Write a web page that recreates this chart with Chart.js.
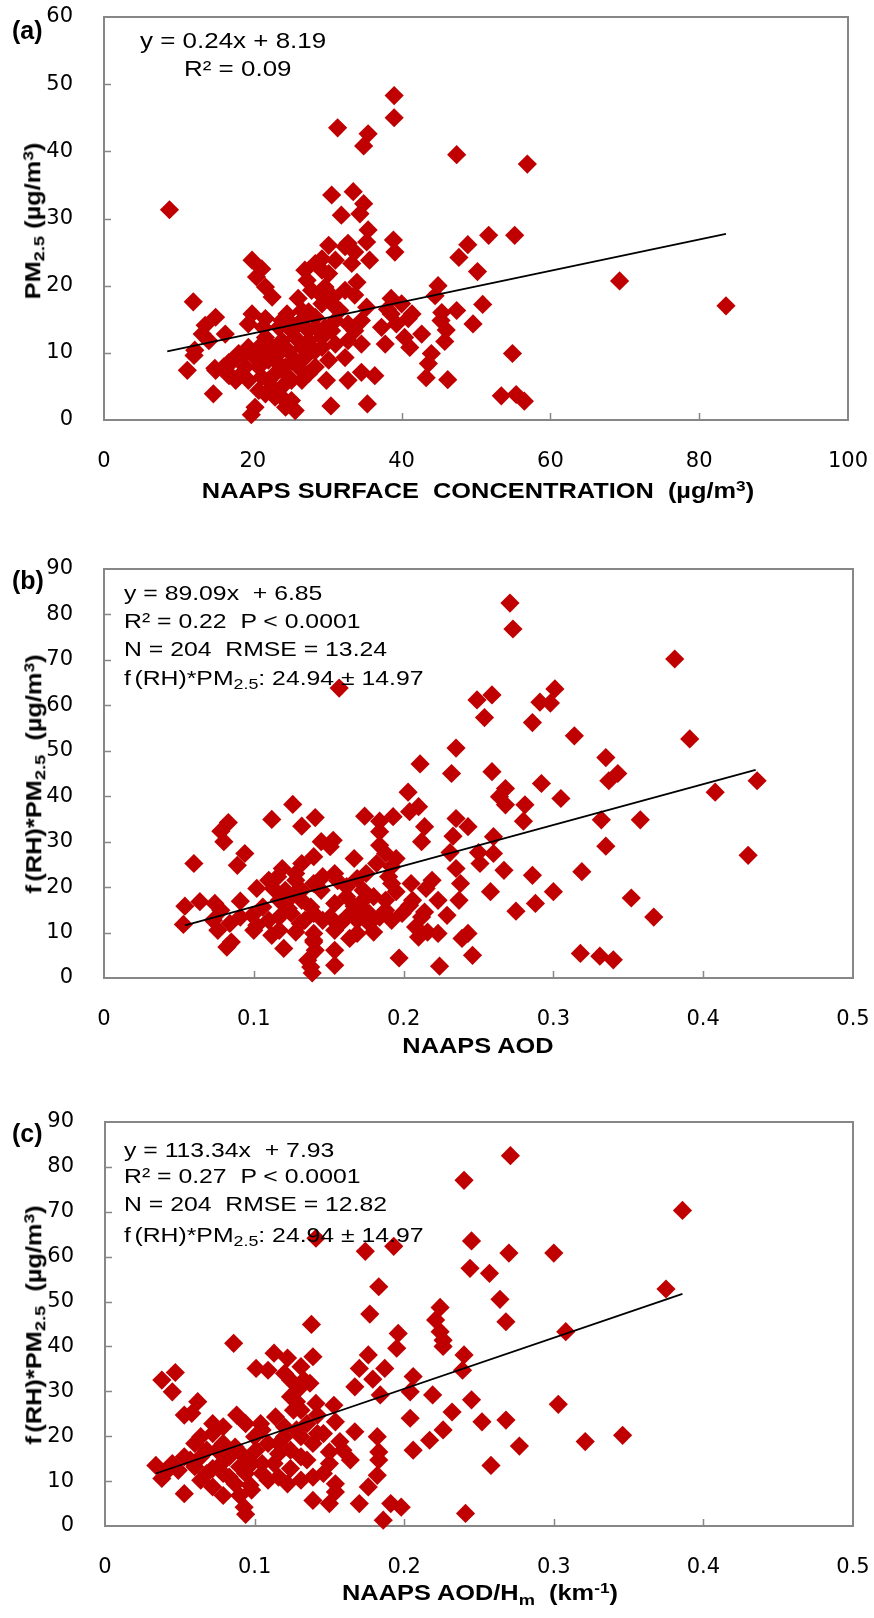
<!DOCTYPE html>
<html>
<head>
<meta charset="utf-8">
<title>NAAPS vs PM2.5 scatter</title>
<script src="https://cdn.jsdelivr.net/npm/chart.js@4.4.0/dist/chart.umd.min.js"></script>
<style>
  html, body { margin: 0; padding: 0; background: #fff; }
  #page { position: relative; width: 874px; height: 1618px; overflow: hidden; background: #fff; }
  canvas { position: absolute; left: 0; }
  .lbl { position: absolute; white-space: pre; line-height: 1; font-family: 'Liberation Sans', Arial, sans-serif; color: #000; }
  .lbl.b { font-weight: bold; }
  .lbl sub { font-size: 0.72em; vertical-align: -0.28em; line-height: 0; }
  .lbl sup { font-size: 0.68em; vertical-align: 0.48em; line-height: 0; }
</style>
</head>
<body>
<div id="page">
  <canvas id="chart_a" width="874" height="530" style="top:0px"></canvas>
  <canvas id="chart_b" width="874" height="530" style="top:540px"></canvas>
  <canvas id="chart_c" width="874" height="528" style="top:1090px"></canvas>
</div>
<script>
// ---- data ----
// (a) NAAPS surface concentration vs PM2.5
var aX = [8.8, 30.6, 33.5, 34.9, 31.9, 34.4, 35.5, 35.3, 30.2, 32.8, 33.7, 38.9, 39.1, 35.7, 33.3, 29.3, 30.2, 27.0, 19.9, 21.2,
  20.5, 21.7, 22.6, 27.3, 27.9, 29.7, 32.4, 34.0, 33.7, 30.8, 26.1, 29.0, 12.0, 35.3, 38.6, 40.0, 44.9, 44.5, 45.4, 38.6,
  40.9, 31.7, 24.6, 27.5, 28.4, 19.9, 21.7, 15.0, 13.6, 16.3, 13.2, 14.1, 12.1, 11.2, 14.7, 15.0, 16.8, 17.4, 18.8, 19.4,
  20.3, 19.8, 20.8, 22.1, 20.8, 23.0, 24.4, 25.7, 23.9, 25.2, 26.6, 23.0, 21.7, 24.8, 25.7, 27.5, 29.3, 28.4, 27.0, 30.2,
  31.1, 33.7, 34.6, 29.9, 32.8, 34.6, 36.4, 30.5, 35.4, 37.3, 37.8, 39.3, 40.4, 41.1, 42.7, 43.3, 43.6, 44.0, 45.3, 45.8,
  46.2, 18.5, 23.5, 24.8, 26.1, 19.9, 21.7, 23.9, 26.1, 24.4, 23.0, 21.2, 32.8, 31.1, 29.7, 32.4, 39.0, 39.0, 31.4, 35.5,
  34.9, 47.4, 56.9, 51.7, 55.2, 48.9, 47.7, 50.2, 50.9, 47.4, 49.6, 46.0, 54.9, 69.3, 83.6, 53.4, 55.4, 56.5, 41.4, 38.1,
  12.2, 16.7, 14.9, 16.8, 18.1, 19.0, 20.3, 20.8, 22.1, 22.6, 23.5, 23.9, 24.8, 25.7, 26.6, 27.5, 25.2, 23.9, 26.6, 28.4,
  29.3, 28.4, 27.5, 22.6, 21.7, 23.9, 25.2, 19.4, 17.7, 16.1, 21.4, 19.4, 30.6, 31.1, 32.8, 34.6, 29.3, 26.6, 29.3, 31.1,
  32.4, 28.4];
var aY = [31.3, 33.5, 34.0, 32.2, 30.5, 30.7, 28.3, 26.5, 26.0, 26.3, 25.0, 26.8, 25.0, 23.8, 23.3, 24.0, 21.8, 22.3, 23.8, 22.5,
  21.3, 19.8, 18.3, 20.8, 19.3, 19.8, 19.3, 20.5, 18.6, 18.3, 18.1, 18.8, 17.6, 16.8, 18.1, 17.3, 20.0, 18.5, 16.0, 15.8,
  15.1, 16.3, 15.8, 16.1, 15.3, 15.8, 15.1, 15.3, 14.1, 12.8, 12.8, 11.8, 9.6, 7.4, 3.9, 7.4, 6.6, 8.9, 9.6, 5.9,
  1.9, 0.8, 7.9, 5.9, 4.4, 3.4, 1.9, 1.4, 4.9, 5.9, 5.9, 8.9, 10.3, 10.3, 12.3, 13.3, 12.3, 10.3, 9.3, 8.9,
  11.3, 13.3, 11.3, 5.9, 5.9, 7.1, 6.6, 2.1, 2.4, 13.8, 11.3, 14.3, 12.3, 10.8, 12.8, 6.3, 8.4, 9.9, 14.8, 11.7,
  6.0, 6.9, 13.8, 14.8, 14.3, 9.9, 12.3, 11.8, 7.9, 7.9, 6.9, 6.4, 11.8, 14.8, 13.8, 9.3, 48.3, 45.0, 43.5, 42.6,
  40.8, 39.5, 38.1, 27.5, 27.5, 26.1, 24.2, 22.1, 17.2, 16.3, 14.3, 13.4, 9.9, 20.7, 17.0, 3.6, 3.8, 2.8, 15.8, 16.5,
  10.4, 7.0, 7.7, 8.6, 9.9, 7.9, 9.3, 10.8, 8.9, 10.8, 9.9, 7.9, 6.4, 8.9, 10.8, 11.8, 13.3, 14.8, 14.8, 13.8,
  10.8, 7.9, 6.9, 4.9, 3.9, 3.4, 2.9, 10.8, 5.9, 7.9, 13.8, 14.3, 13.3, 16.8, 14.3, 14.8, 17.3, 16.3, 22.3, 23.8,
  25.8, 23.3];
var aFitX = [8.5, 83.6];
var aFitY = [10.2, 27.7];

// (b) NAAPS AOD vs f(RH)*PM2.5
var bX = [0.271, 0.273, 0.381, 0.157, 0.301, 0.259, 0.249, 0.291, 0.298, 0.254, 0.286, 0.314, 0.391, 0.235, 0.335, 0.211, 0.232, 0.259, 0.343, 0.337,
  0.436, 0.292, 0.268, 0.408, 0.203, 0.264, 0.305, 0.268, 0.281, 0.126, 0.210, 0.204, 0.174, 0.193, 0.141, 0.112, 0.184, 0.332, 0.358, 0.280,
  0.235, 0.083, 0.243, 0.214, 0.132, 0.078, 0.184, 0.233, 0.260, 0.430, 0.335, 0.080, 0.145, 0.153, 0.212, 0.151, 0.184, 0.188, 0.094, 0.250,
  0.231, 0.260, 0.195, 0.167, 0.140, 0.132, 0.060, 0.089, 0.267, 0.319, 0.235, 0.182, 0.251, 0.119, 0.286, 0.146, 0.116, 0.190, 0.219, 0.205,
  0.110, 0.128, 0.156, 0.169, 0.238, 0.102, 0.113, 0.215, 0.300, 0.258, 0.145, 0.173, 0.195, 0.126, 0.180, 0.352, 0.237, 0.223, 0.288, 0.054,
  0.064, 0.074, 0.091, 0.154, 0.167, 0.204, 0.123, 0.138, 0.173, 0.188, 0.214, 0.275, 0.229, 0.367, 0.099, 0.117, 0.162, 0.146, 0.192, 0.053,
  0.084, 0.131, 0.177, 0.208, 0.076, 0.102, 0.112, 0.128, 0.154, 0.180, 0.216, 0.223, 0.243, 0.210, 0.239, 0.164, 0.085, 0.140, 0.082, 0.120,
  0.141, 0.318, 0.331, 0.340, 0.246, 0.197, 0.136, 0.154, 0.224, 0.139, 0.138,
  0.106, 0.117, 0.132, 0.140, 0.151, 0.158, 0.169, 0.177, 0.162, 0.173, 0.188, 0.192, 0.162, 0.140, 0.132, 0.121, 0.125, 0.134, 0.110, 0.091,
  0.078, 0.073, 0.100, 0.117, 0.140, 0.169, 0.184, 0.199, 0.206, 0.212, 0.175, 0.154, 0.128, 0.192, 0.140, 0.154];
var bY = [82.5, 76.8, 70.2, 63.8, 63.6, 62.3, 61.2, 60.7, 60.5, 57.3, 56.2, 53.3, 52.6, 50.6, 48.5, 47.1, 45.0, 45.4, 45.0, 43.4,
  43.4, 42.8, 41.7, 40.9, 40.9, 39.9, 39.5, 38.1, 38.1, 38.2, 37.7, 36.6, 35.6, 35.5, 35.3, 34.9, 34.5, 34.8, 34.8, 34.5,
  35.1, 34.2, 33.3, 33.3, 33.4, 32.3, 32.2, 31.2, 31.1, 27.0, 29.0, 30.0, 30.0, 30.3, 30.0, 28.9, 29.2, 27.4, 27.4, 27.6,
  27.6, 27.4, 26.3, 26.3, 26.7, 25.2, 25.2, 24.8, 23.7, 23.4, 24.1, 25.2, 25.2, 24.1, 22.6, 22.3, 22.3, 22.3, 21.5, 20.8,
  21.5, 21.5, 21.4, 21.9, 20.8, 19.7, 19.7, 19.7, 19.0, 19.0, 19.3, 19.3, 19.0, 18.2, 17.9, 17.6, 17.1, 17.1, 16.4, 15.8,
  16.8, 16.4, 16.9, 16.4, 15.8, 16.0, 15.3, 15.6, 14.9, 14.9, 14.5, 14.7, 13.8, 13.4, 13.8, 13.4, 13.4, 12.7, 12.7, 11.8,
  12.0, 12.0, 12.0, 11.2, 10.5, 11.6, 9.4, 10.1, 10.5, 10.1, 10.1, 9.8, 9.8, 9.0, 8.7, 8.7, 7.9, 7.9, 6.8, 6.5,
  6.1, 5.4, 4.8, 4.0, 5.0, 4.4, 3.9, 2.8, 2.6, 1.1, 2.4,
  15.6, 17.1, 17.1, 14.2, 13.4, 12.0, 12.7, 14.2, 17.9, 17.1, 17.1, 20.8, 20.1, 20.8, 19.3, 19.3, 14.2, 12.7, 12.7, 13.4,
  14.9, 12.7, 10.5, 10.5, 9.8, 9.8, 13.4, 14.2, 17.1, 13.4, 23.0, 23.0, 23.0, 24.5, 8.3, 6.1];
var bFitX = [0.054, 0.435];
var bFitY = [11.6, 45.8];

// (c) NAAPS AOD/Hm vs f(RH)*PM2.5
var cX = [0.271, 0.240, 0.386, 0.141, 0.245, 0.193, 0.174, 0.270, 0.300, 0.244, 0.257, 0.183, 0.375, 0.264, 0.224, 0.177, 0.268, 0.221, 0.138, 0.308,
  0.224, 0.196, 0.226, 0.086, 0.195, 0.226, 0.113, 0.176, 0.240, 0.139, 0.122, 0.101, 0.109, 0.131, 0.170, 0.187, 0.239, 0.047, 0.038, 0.206,
  0.179, 0.124, 0.137, 0.129, 0.167, 0.045, 0.204, 0.184, 0.219, 0.245, 0.303, 0.062, 0.128, 0.141, 0.153, 0.126, 0.232, 0.053, 0.058, 0.088,
  0.142, 0.114, 0.268, 0.204, 0.252, 0.154, 0.104, 0.120, 0.226, 0.167, 0.142, 0.072, 0.346, 0.079, 0.100, 0.131, 0.182, 0.217, 0.321, 0.157,
  0.060, 0.116, 0.277, 0.206, 0.068, 0.183, 0.150, 0.092, 0.053, 0.164, 0.135, 0.183, 0.079, 0.105, 0.258, 0.034, 0.042, 0.060, 0.072, 0.124,
  0.094, 0.146, 0.083, 0.182, 0.038, 0.109, 0.064, 0.097, 0.122, 0.131, 0.072, 0.176, 0.154, 0.079, 0.090, 0.053, 0.139, 0.150, 0.170, 0.191,
  0.198, 0.093, 0.094, 0.241, 0.186, 0.154, 0.139,
  0.057, 0.064, 0.075, 0.079, 0.087, 0.083, 0.090, 0.098, 0.101, 0.109, 0.116, 0.124, 0.131, 0.120, 0.128, 0.135, 0.113, 0.105, 0.116, 0.087,
  0.079, 0.068, 0.049, 0.045, 0.139, 0.146, 0.131, 0.124, 0.133, 0.120, 0.105, 0.094, 0.072, 0.064, 0.150, 0.159, 0.098];
var cY = [82.5, 77.0, 70.3, 64.1, 63.5, 62.3, 61.2, 60.8, 60.8, 57.4, 56.3, 53.3, 52.8, 50.5, 48.7, 47.2, 45.5, 45.9, 44.9, 43.3,
  43.3, 42.9, 41.4, 40.7, 39.6, 40.0, 38.5, 38.1, 38.1, 37.7, 37.4, 35.1, 34.7, 35.5, 35.1, 35.1, 34.7, 34.2, 32.5, 33.3,
  32.7, 32.5, 31.8, 30.4, 31.0, 29.9, 29.9, 29.2, 29.2, 28.1, 27.1, 27.7, 27.7, 27.3, 26.9, 25.8, 25.4, 24.7, 25.1, 24.7,
  24.7, 24.3, 23.6, 24.0, 23.2, 23.2, 22.8, 22.1, 21.4, 21.0, 20.6, 20.6, 20.2, 22.1, 19.9, 19.9, 19.9, 19.1, 18.8, 18.8,
  18.4, 18.4, 17.8, 16.9, 16.9, 16.5, 16.5, 15.8, 15.4, 14.7, 14.7, 14.7, 14.3, 13.9, 13.5, 13.5, 12.4, 13.2, 12.8, 12.8,
  11.7, 11.7, 10.9, 11.3, 10.6, 10.2, 10.2, 9.1, 9.4, 10.2, 8.7, 8.7, 7.6, 6.8, 6.8, 7.2, 5.7, 5.0, 5.0, 5.0,
  4.2, 4.2, 2.6, 2.8, 1.3, 9.4, 10.9,
  14.7, 15.4, 16.9, 18.4, 17.6, 15.4, 13.2, 13.9, 16.9, 18.4, 16.1, 16.9, 15.4, 19.9, 21.4, 22.8, 13.9, 11.7, 10.9, 9.4,
  11.7, 11.7, 12.4, 13.9, 18.4, 20.6, 25.8, 28.8, 32.5, 34.0, 21.4, 22.8, 22.8, 19.9, 13.9, 16.9, 8.0];
var cFitX = [0.034, 0.386];
var cFitY = [11.7, 51.7];

// axis ranges: [min, max, step]
var aXRange = [0, 100, 20];
var aYRange = [0, 60, 10];
var bXRange = [0, 0.5, 0.1];
var bYRange = [0, 90, 10];
var cXRange = [0, 0.5, 0.1];
var cYRange = [0, 90, 10];

// ---- look ----
var MARKER = '#C00000';
var FRAME = '#878787';
var STRETCH = 1.18;   // the figure's lettering is wider than plain Arial
var tickFont = { family: "'DejaVu Sans', sans-serif", size: 21 };

// draws the grey plot box and the inward tick marks (Excel style)
var frameTicks = {
  id: 'frameTicks',
  beforeDatasetsDraw: function(chart) {
    var ctx = chart.ctx, a = chart.chartArea;
    var xs = chart.scales.x, ys = chart.scales.y;
    ctx.save();
    ctx.strokeStyle = FRAME;
    ctx.lineWidth = 2;
    ctx.strokeRect(a.left, a.top, a.right - a.left, a.bottom - a.top);
    ctx.lineWidth = 1.5;
    xs.ticks.forEach(function(t, i) {
      if (i === 0 || i === xs.ticks.length - 1) return;
      var px = Math.round(xs.getPixelForValue(t.value)) + 0.5;
      ctx.beginPath(); ctx.moveTo(px, a.bottom); ctx.lineTo(px, a.bottom - 7); ctx.stroke();
    });
    ys.ticks.forEach(function(t, i) {
      if (i === 0 || i === ys.ticks.length - 1) return;
      var py = Math.round(ys.getPixelForValue(t.value)) + 0.5;
      ctx.beginPath(); ctx.moveTo(a.left, py); ctx.lineTo(a.left + 7, py); ctx.stroke();
    });
    ctx.restore();
  }
};

function makeScatter(canvasId, xs, ys, fitX, fitY, xRange, yRange, box) {
  var pts = xs.map(function(x, i) { return { x: x, y: ys[i] }; });
  var fit = fitX.map(function(x, i) { return { x: x, y: fitY[i] }; });
  return new Chart(document.getElementById(canvasId), {
    type: 'scatter',
    data: {
      datasets: [
        { data: fit, showLine: true, borderColor: '#000', borderWidth: 1.8, pointRadius: 0, order: 0, clip: false },
        { data: pts, pointStyle: 'rectRot', pointRadius: 9.6, pointBorderWidth: 0,
          pointBackgroundColor: MARKER, backgroundColor: MARKER, borderColor: MARKER, order: 1, clip: false }
      ]
    },
    options: {
      responsive: false,
      animation: false,
      events: [],
      layout: { padding: { top: box.top, right: box.right, left: 0, bottom: 0 } },
      plugins: { legend: { display: false }, tooltip: { enabled: false } },
      scales: {
        x: {
          type: 'linear', position: 'bottom', min: xRange[0], max: xRange[1],
          ticks: { stepSize: xRange[2], color: '#000', font: tickFont, padding: 21, maxRotation: 0, autoSkip: false },
          grid: { display: false }, border: { display: false },
          // fixed size, and no extra room for the end labels
          afterFit: function(s) { s.height = box.xh; s.paddingLeft = 0; s.paddingRight = 0; }
        },
        y: {
          type: 'linear', position: 'left', min: yRange[0], max: yRange[1],
          ticks: { stepSize: yRange[2], color: '#000', font: tickFont, padding: 23, autoSkip: false },
          grid: { display: false }, border: { display: false },
          afterFit: function(s) { s.width = box.left; s.paddingTop = 0; s.paddingBottom = 0; }
        }
      }
    },
    plugins: [frameTicks]
  });
}

makeScatter('chart_a', aX, aY, aFitX, aFitY, aXRange, aYRange, { top: 17, right: 26, left: 104, xh: 110 });
makeScatter('chart_b', bX, bY, bFitX, bFitY, bXRange, bYRange, { top: 29, right: 21, left: 104, xh: 92 });
makeScatter('chart_c', cX, cY, cFitX, cFitY, cXRange, cYRange, { top: 32, right: 21, left: 105, xh: 92 });

// ---- text laid over the canvases ----
var page = document.getElementById('page');
function addText(html, x, y, size, bold, anchor, stretch) {
  var sx = (stretch === undefined) ? STRETCH : stretch;
  var d = document.createElement('div');
  d.className = 'lbl' + (bold ? ' b' : '');
  d.innerHTML = html;
  d.style.left = x + 'px';
  d.style.top = y + 'px';
  d.style.fontSize = size + 'px';
  if (anchor === 'left') {
    d.style.transformOrigin = '0 50%';
    d.style.transform = 'translate(0,-50%) scaleX(' + sx + ')';
  } else if (anchor === 'center') {
    d.style.transformOrigin = '50% 50%';
    d.style.transform = 'translate(-50%,-50%) scaleX(' + sx + ')';
  } else {
    // rotated y-axis title, widened along the text
    d.style.transformOrigin = '50% 50%';
    d.style.transform = 'translate(-50%,-50%) rotate(-90deg) scaleX(' + sx + ')';
  }
  page.appendChild(d);
}

var fRH = 'f<span style="margin-right:3px"></span>(RH)*PM<sub>2.5</sub>';

// panel (a)
addText('(a)', 12, 30, 25, true, 'left', 1);
addText('y = 0.24x + 8.19', 140, 41, 22, false, 'left');
addText('R² = 0.09', 184, 69, 22, false, 'left');
addText('PM<sub>2.5</sub> (µg/m<sup>3</sup>)', 34, 221, 21.5, true, 'rot');
addText('NAAPS SURFACE  CONCENTRATION  (µg/m<sup>3</sup>)', 478, 492, 21.5, true, 'center');

// panel (b)
addText('(b)', 12, 580, 25, true, 'left', 1);
addText('y = 89.09x  + 6.85', 124, 592, 21, false, 'left');
addText('R² = 0.22  P &lt; 0.0001', 124, 620, 21, false, 'left');
addText('N = 204  RMSE = 13.24', 124, 648, 21, false, 'left');
addText(fRH + ': 24.94 ± 14.97', 124, 677, 21, false, 'left');
addText(fRH + '  (µg/m<sup>3</sup>)', 35, 774, 21.5, true, 'rot');
addText('NAAPS AOD', 478, 1047, 21.5, true, 'center');

// panel (c)
addText('(c)', 12, 1133, 25, true, 'left', 1);
addText('y = 113.34x  + 7.93', 124, 1149, 21, false, 'left');
addText('R² = 0.27  P &lt; 0.0001', 124, 1175, 21, false, 'left');
addText('N = 204  RMSE = 12.82', 124, 1203, 21, false, 'left');
addText(fRH + ': 24.94 ± 14.97', 124, 1234, 21, false, 'left');
addText(fRH + '  (µg/m<sup>3</sup>)', 35, 1325, 21.5, true, 'rot');
addText('NAAPS AOD/H<sub>m</sub>  (km<sup>-1</sup>)', 480, 1594, 21.5, true, 'center');
</script>
</body>
</html>
